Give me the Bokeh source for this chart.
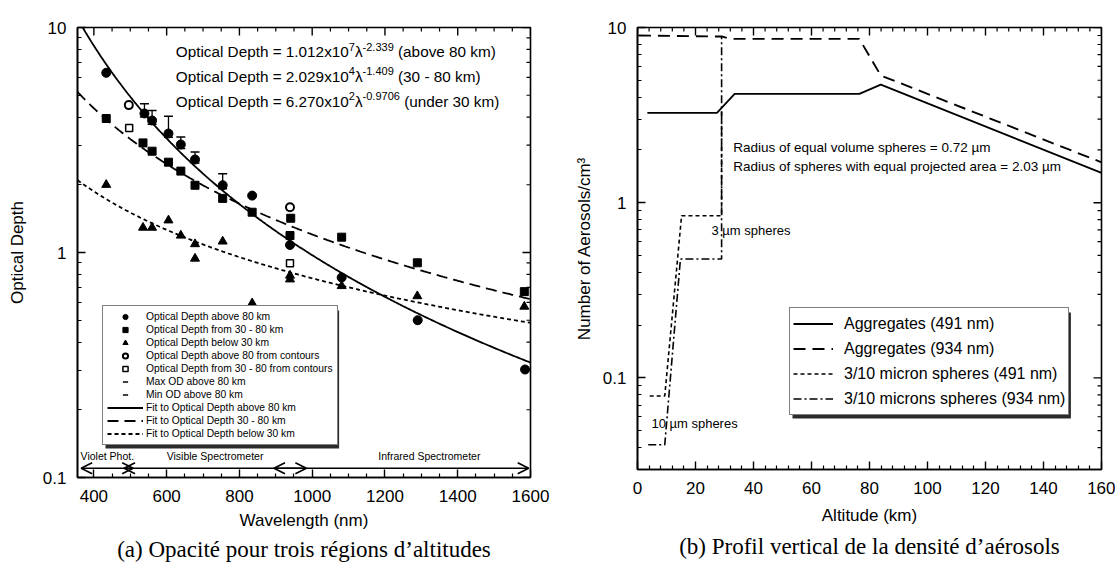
import numpy as np
from bokeh.plotting import figure
from bokeh.layouts import row
from bokeh.models import (ColumnDataSource, FixedTicker, Legend, LegendItem, Arrow, OpenHead,
                          Title, PrintfTickFormatter, BoxAnnotation)
from bokeh.core.properties import value
from bokeh.embed import file_html
from bokeh.resources import INLINE

FONT = "Liberation Sans"
SERIF = "Liberation Serif"

# ---------------- Panel (a): optical depth versus wavelength ----------------
# Optical depth above 80 km (filled circles)
od80_wl = [434, 539, 560, 605, 639, 678, 754, 835, 939, 1081, 1290, 1585]
od80_val = [6.29, 4.15, 3.86, 3.38, 3.02, 2.59, 1.99, 1.79, 1.08, 0.774, 0.50, 0.302]
# Max / min optical depth above 80 km (error bars)
odmax_wl = [539, 560, 605, 639, 678, 754]
odmax_val = [4.58, 4.28, 4.03, 3.26, 2.80, 2.24]
odmin_val = [4.00, 3.72, 3.25, 2.90, 2.50, 1.92]
# Optical depth 30 - 80 km (filled squares)
od3080_wl = [434, 535, 560, 605, 639, 678, 754, 835, 941, 939, 1081, 1289, 1583]
od3080_val = [3.94, 3.07, 2.82, 2.52, 2.30, 1.99, 1.74, 1.51, 1.42, 1.19, 1.17, 0.90, 0.67]
# Optical depth below 30 km (filled triangles)
od30_wl = [434, 535, 560, 605, 639, 678, 678, 754, 835, 939, 939, 1081, 1289, 1583]
od30_val = [2.0, 1.29, 1.29, 1.39, 1.19, 1.09, 0.94, 1.12, 0.595, 0.79, 0.76, 0.71, 0.64, 0.575]
# Values derived from contours (open symbols)
cont80_wl = [496, 939]
cont80_val = [4.52, 1.59]
cont3080_wl = [497, 939]
cont3080_val = [3.58, 0.896]

# Power-law fits: OD = coef x 10^pow10 * lambda^exp
fit_coef_text = ["1.012", "2.029", "6.270"]
fit_pow10_text = ["7", "4", "2"]
fit_exp_text = ["-2.339", "-1.409", "-0.9706"]
fit_region = ["above 80 km", "30 - 80 km", "under 30 km"]
fit_legend = ["Fit to Optical Depth above 80 km", "Fit to Optical Depth 30 - 80 km",
              "Fit to Optical Depth below 30 km"]

# Instrument coverage
band_names = ["Violet Phot.", "Visible Spectrometer", "Infrared Spectrometer"]
band_start = [365, 483, 895]
band_end = [508, 984, 1595]
band_label_x = [437, 733, 1322]

# ---------------- Panel (b): aerosol vertical profile ----------------
agg491_alt = [3.4, 27.4, 33.5, 76.5, 83.9, 160]
agg491_n = [3.26, 3.26, 4.18, 4.18, 4.72, 1.48]
agg934_alt = [0.5, 29.3, 31.8, 76.5, 83.9, 160]
agg934_n = [9.0, 8.88, 8.61, 8.61, 5.32, 1.70]
sph491_alt = [4.2, 9.4, 15.2, 29.0, 29.0]
sph491_n = [0.0789, 0.0789, 0.843, 0.843, 3.3]
sph934_alt = [3.7, 9.4, 14.8, 29.0, 29.0]
sph934_n = [0.0415, 0.0415, 0.477, 0.477, 8.88]

# Helvetica/Arial advance widths (1/1000 em) used to lay out text runs
ADV = {' ': 278, '(': 333, ')': 333, '-': 333, '.': 278, '=': 584, 'x': 500, 'λ': 500,
       '/': 278, 'O': 778, 'p': 556, 't': 278, 'i': 222, 'c': 500, 'a': 556, 'l': 222,
       'D': 722, 'e': 556, 'h': 556, 'b': 556, 'o': 556, 'v': 500, 'k': 500, 'm': 833,
       'u': 556, 'n': 556, 'd': 556, 'r': 333, 'f': 278, 's': 500}


def text_width(s, size):
    return sum(ADV.get(ch, 556) for ch in s) * size / 1000.0


def style_axis(ax, tick_std=10, label_std=8):
    ax.major_tick_in = 8
    ax.major_tick_out = 0
    ax.minor_tick_in = 4
    ax.minor_tick_out = 0
    ax.major_tick_line_color = "black"
    ax.minor_tick_line_color = "black"
    ax.major_tick_line_width = 1.4
    ax.minor_tick_line_width = 1.2
    ax.axis_line_color = "black"
    ax.axis_line_width = 1.6
    ax.major_label_text_font = FONT
    ax.major_label_text_font_size = "17px"
    ax.major_label_text_color = "black"
    ax.major_label_standoff = tick_std
    ax.axis_label_text_font = FONT
    ax.axis_label_text_font_size = "17px"
    ax.axis_label_text_font_style = "normal"
    ax.axis_label_text_color = "black"
    ax.axis_label_standoff = label_std


def mirror_ticks(p, xr, yr, xmaj, xmin, ymaj, ymin, fw, fh):
    """Inward tick marks along the top and right edges of a log-y frame."""
    x0, x1 = xr
    y0, y1 = yr
    px_x = fw / (x1 - x0)
    px_y = fh / (np.log10(y1) - np.log10(y0))
    for ticks, L, w in ((xmaj, 8, 1.4), (xmin, 4, 1.2)):
        ybot = y1 / 10 ** (L / px_y)
        p.segment(x0=ticks, y0=[y1] * len(ticks), x1=ticks, y1=[ybot] * len(ticks),
                  line_color="black", line_width=w)
    for ticks, L, w in ((ymaj, 8, 1.4), (ymin, 4, 1.2)):
        xl = x1 - L / px_x
        p.segment(x0=[x1] * len(ticks), y0=ticks, x1=[xl] * len(ticks), y1=ticks,
                  line_color="black", line_width=w)


def legend_shadow(p, xr, yr, fw, fh, left, bottom, width, height, off=3):
    """Drop shadow under a legend box placed at (left, bottom) px in the frame."""
    x0, x1 = xr
    ly0, ly1 = np.log10(yr[0]), np.log10(yr[1])
    px_x = fw / (x1 - x0)
    px_y = fh / (ly1 - ly0)
    sl, sr = left + off, left + width + off
    sb, st = bottom - off, bottom + height - off
    p.add_layout(BoxAnnotation(left=x0 + sl / px_x, right=x0 + sr / px_x,
                               bottom=10 ** (ly0 + sb / px_y), top=10 ** (ly0 + st / px_y),
                               fill_color="#2b2b2b", fill_alpha=1.0, line_color=None,
                               level="annotation"))


def style_legend(leg, cfg):
    leg.label_text_font = FONT
    leg.label_text_font_size = "%.1fpx" % cfg["font"]
    leg.label_text_color = "black"
    leg.label_height = cfg["row"]
    leg.glyph_height = cfg["row"]
    leg.glyph_width = cfg["glyph"]
    leg.label_standoff = cfg["std"]
    leg.spacing = 0
    leg.padding = cfg["pad"]
    leg.margin = 0
    leg.border_line_color = "black"
    leg.border_line_width = 1.5
    leg.background_fill_color = "white"
    leg.background_fill_alpha = 1.0


# ======================= Figure (a) =======================
X1 = (355, 1600)
Y1 = (0.1, 10)
FW1, FH1 = 453, 450
p1 = figure(frame_width=FW1, frame_height=FH1, y_axis_type="log",
            x_range=X1, y_range=Y1,
            min_border_left=77, min_border_right=27, min_border_top=22, min_border_bottom=99,
            output_backend="svg", toolbar_location=None)
p1.grid.visible = False
p1.outline_line_color = "black"
p1.outline_line_width = 1.6

wl_major = list(range(400, 1601, 200))
wl_minor = [v for v in range(400, 1601, 50) if v not in wl_major]
od_major = [0.1, 1, 10]
od_minor = [m * 10.0 ** d for d in (-1, 0) for m in range(2, 10)]
p1.xaxis.ticker = FixedTicker(ticks=wl_major, minor_ticks=wl_minor)
p1.yaxis.ticker = FixedTicker(ticks=od_major, minor_ticks=od_minor)
p1.yaxis.formatter = PrintfTickFormatter(format="%g")
p1.xaxis.axis_label = "Wavelength (nm)"
p1.yaxis.axis_label = "Optical Depth"
style_axis(p1.xaxis[0], tick_std=12, label_std=6)
style_axis(p1.yaxis[0], tick_std=11, label_std=13)
mirror_ticks(p1, X1, Y1, wl_major, wl_minor, od_major, od_minor, FW1, FH1)

# Fit curves
lam = np.linspace(355, 1600, 400)
fit_styles = [dict(line_dash="solid"), dict(line_dash="11 6"), dict(line_dash="4 3")]
fit_renderers = []
for c, pw, ex, st in zip(fit_coef_text, fit_pow10_text, fit_exp_text, fit_styles):
    amp = float(c) * 10.0 ** int(pw)
    r = p1.line(lam, amp * lam ** float(ex), line_color="black", line_width=1.8, **st)
    fit_renderers.append(r)

# Error bars for the above-80-km points
p1.segment(x0=odmax_wl, y0=odmin_val, x1=odmax_wl, y1=odmax_val, line_color="black", line_width=1.3)
r_max = p1.scatter(odmax_wl, odmax_val, marker="dash", size=9, line_color="black", line_width=1.5)
r_min = p1.scatter(odmax_wl, odmin_val, marker="dash", size=9, line_color="black", line_width=1.5)

r80 = p1.scatter(od80_wl, od80_val, marker="circle", size=9, fill_color="black", line_color="black")
r3080 = p1.scatter(od3080_wl, od3080_val, marker="square", size=8, fill_color="black", line_color="black")
r30 = p1.scatter(od30_wl, od30_val, marker="triangle", size=9, fill_color="black", line_color="black")
rc80 = p1.scatter(cont80_wl, cont80_val, marker="circle", size=8, fill_color="white",
                  line_color="black", line_width=2)
rc3080 = p1.scatter(cont3080_wl, cont3080_val, marker="square", size=7, fill_color="white",
                    line_color="black", line_width=1.5)

# Formula annotations, laid out as runs with raised exponents
MAIN, SUP = 15.3, 11.0
fx, fy, fdx, fdy, ftxt, fsz = [], [], [], [], [], []
line_y = [7.8, 6.08, 4.71]
for c, pw, ex, reg, yv in zip(fit_coef_text, fit_pow10_text, fit_exp_text, fit_region, line_y):
    runs = [("Optical Depth = %sx10" % c, MAIN, 0, 0.0), (pw, SUP, -5, 0.0),
            ("λ", MAIN, 0, 0.0), (ex, SUP, -5, 0.0), ("(%s)" % reg, MAIN, 0, text_width(" ", MAIN))]
    off = 0.0
    for t, sz, dy, gap in runs:
        off += gap
        fx.append(625)
        fy.append(yv)
        fdx.append(off)
        fdy.append(dy)
        ftxt.append(t)
        fsz.append("%.1fpx" % sz)
        off += text_width(t, sz)
fsrc = ColumnDataSource(dict(x=fx, y=fy, dx=fdx, dy=fdy, text=ftxt, size=fsz))
p1.text(x="x", y="y", text="text", x_offset="dx", y_offset="dy", text_font_size="size",
        source=fsrc, text_font=value(FONT), text_baseline="middle", text_align="left",
        text_color="black")

# Instrument coverage arrows
band_y = 0.110
for s, e in zip(band_start, band_end):
    p1.add_layout(Arrow(start=OpenHead(size=11, line_width=1.6), end=OpenHead(size=11, line_width=1.6),
                        x_start=s, y_start=band_y, x_end=e, y_end=band_y, line_width=1.5))
p1.text(x=band_label_x, y=[0.125] * 3, text=band_names, text_font=value(FONT),
        text_font_size="10.5px", text_align="center", text_baseline="middle", text_color="black")

leg1_labels = ["Optical Depth above 80 km", "Optical Depth from 30 - 80 km",
               "Optical Depth below 30 km", "Optical Depth above 80 from contours",
               "Optical Depth from 30 - 80 from contours", "Max OD above 80 km",
               "Min OD above 80 km"] + fit_legend
leg1_rend = [r80, r3080, r30, rc80, rc3080, r_max, r_min] + fit_renderers
L1 = dict(left=25, bottom=32, pad=4, row=13, glyph=36, std=3, font=10.3)
leg1 = Legend(items=[LegendItem(label=t, renderers=[r]) for t, r in zip(leg1_labels, leg1_rend)],
              location=(L1["left"], L1["bottom"]))
style_legend(leg1, L1)
w1 = 2 * L1["pad"] + L1["glyph"] + L1["std"] + max(text_width(t, L1["font"]) for t in leg1_labels)
h1 = 2 * L1["pad"] + L1["row"] * len(leg1_labels)
legend_shadow(p1, X1, Y1, FW1, FH1, L1["left"], L1["bottom"], w1, h1)
p1.add_layout(leg1)

p1.add_layout(Title(text="(a) Opacité pour trois régions d’altitudes", align="center",
                    text_font=SERIF, text_font_size="23px", text_font_style="normal",
                    text_color="black", standoff=5), "below")

# ======================= Figure (b) =======================
X2 = (0, 160)
Y2 = (0.03, 10)
FW2, FH2 = 464, 442
p2 = figure(frame_width=FW2, frame_height=FH2, y_axis_type="log",
            x_range=X2, y_range=Y2,
            min_border_left=80, min_border_right=14, min_border_top=27, min_border_bottom=102,
            output_backend="svg", toolbar_location=None)
p2.grid.visible = False
p2.outline_line_color = "black"
p2.outline_line_width = 1.6
alt_major = list(range(0, 161, 20))
alt_minor = [v for v in range(0, 161, 4) if v not in alt_major]
n_major = [0.1, 1, 10]
n_minor = [m * 0.01 for m in range(3, 10)] + [m * 10.0 ** d for d in (-1, 0) for m in range(2, 10)]
p2.xaxis.ticker = FixedTicker(ticks=alt_major, minor_ticks=alt_minor)
p2.yaxis.ticker = FixedTicker(ticks=n_major, minor_ticks=n_minor)
p2.yaxis.formatter = PrintfTickFormatter(format="%g")
p2.xaxis.axis_label = "Altitude (km)"
p2.yaxis.axis_label = "Number of Aerosols/cm³"
style_axis(p2.xaxis[0], tick_std=12, label_std=9)
style_axis(p2.yaxis[0], tick_std=11, label_std=6)
mirror_ticks(p2, X2, Y2, alt_major, alt_minor, n_major, n_minor, FW2, FH2)

ra = p2.line(agg491_alt, agg491_n, line_color="black", line_width=1.8)
rb = p2.line(agg934_alt, agg934_n, line_color="black", line_width=1.9, line_dash="12 7")
rc = p2.line(sph491_alt, sph491_n, line_color="black", line_width=1.6, line_dash="4 3")
rd = p2.line(sph934_alt, sph934_n, line_color="black", line_width=1.6, line_dash="8 3 2 3")

p2.text(x=[33.0, 33.0], y=[2.07, 1.61],
        text=["Radius of equal volume spheres = 0.72 µm",
              "Radius of spheres with equal projected area = 2.03 µm"],
        text_font=value(FONT), text_font_size="13.5px", text_baseline="middle",
        text_align="left", text_color="black")
p2.text(x=[25.5, 4.8], y=[0.69, 0.0548], text=["3 µm spheres", "10 µm spheres"],
        text_font=value(FONT), text_font_size="13px", text_baseline="middle",
        text_align="left", text_color="black")

leg2_labels = ["Aggregates (491 nm)", "Aggregates (934 nm)", "3/10 micron spheres (491 nm)",
               "3/10 microns spheres (934 nm)"]
L2 = dict(left=152, bottom=54, pad=3, row=25, glyph=40, std=11, font=16)
leg2 = Legend(items=[LegendItem(label=t, renderers=[r]) for t, r in zip(leg2_labels, [ra, rb, rc, rd])],
              location=(L2["left"], L2["bottom"]))
style_legend(leg2, L2)
w2 = 2 * L2["pad"] + L2["glyph"] + L2["std"] + max(text_width(t, L2["font"]) for t in leg2_labels)
h2 = 2 * L2["pad"] + L2["row"] * len(leg2_labels)
legend_shadow(p2, X2, Y2, FW2, FH2, L2["left"], L2["bottom"], w2, h2)
p2.add_layout(leg2)

p2.add_layout(Title(text="(b) Profil vertical de la densité d’aérosols", align="center",
                    text_font=SERIF, text_font_size="23px", text_font_style="normal",
                    text_color="black", standoff=8), "below")

layout = row(p1, p2)
open("out.html", "w").write(file_html(layout, INLINE))
